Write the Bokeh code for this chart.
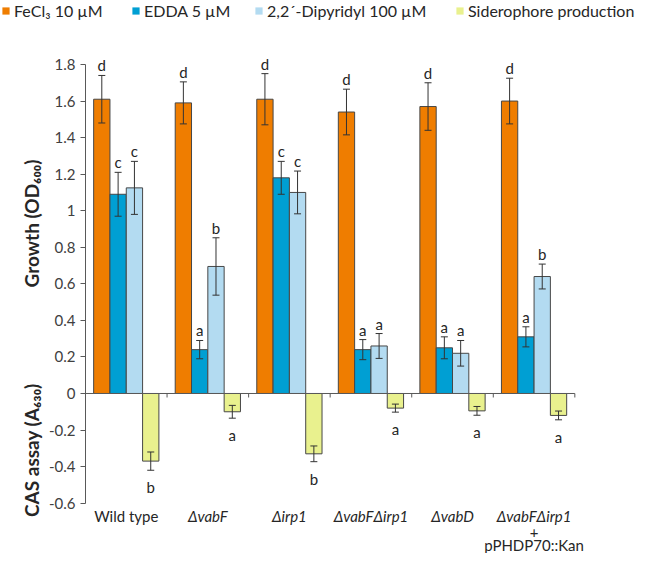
import numpy as np
from bokeh.plotting import figure
from bokeh.layouts import column, row
from bokeh.models import (ColumnDataSource, Range1d, LinearAxis, FixedTicker,
                          CustomJSTickFormatter, Whisker, TeeHead, Legend,
                          LegendItem)
from bokeh.core.properties import value
from bokeh.embed import file_html
from bokeh.resources import INLINE

# ---------------- data ----------------
strains_line1 = ["Wild type", "ΔvabF", "Δirp1", "ΔvabFΔirp1", "ΔvabD", "ΔvabFΔirp1"]
strains_style = ["normal", "italic", "italic", "italic", "italic", "italic"]
strains_line2 = ["", "", "", "", "", "+"]
strains_line3 = ["", "", "", "", "", "pPHDP70::Kan"]

series_names = ["FeCl₃ 10 µM", "EDDA 5 µM", "2,2´-Dipyridyl 100 µM", "Siderophore production"]

fecl3 = [1.61, 1.59, 1.61, 1.54, 1.57, 1.60]
fecl3_err = [0.13, 0.115, 0.14, 0.125, 0.13, 0.125]
fecl3_letters = ["d", "d", "d", "d", "d", "d"]

edda = [1.09, 0.24, 1.18, 0.24, 0.25, 0.31]
edda_err = [0.12, 0.05, 0.09, 0.055, 0.06, 0.055]
edda_letters = ["c", "a", "c", "a", "a", "a"]

dipyridyl = [1.125, 0.695, 1.10, 0.26, 0.22, 0.64]
dipyridyl_err = [0.145, 0.157, 0.117, 0.068, 0.07, 0.068]
dipyridyl_letters = ["c", "b", "c", "a", "a", "b"]

siderophore = [-0.37, -0.10, -0.33, -0.08, -0.095, -0.12]
siderophore_err = [0.05, 0.035, 0.043, 0.022, 0.024, 0.024]
siderophore_letters = ["b", "a", "b", "a", "a", "a"]

y_ticks = [-0.6, -0.4, -0.2, 0.0, 0.2, 0.4, 0.6, 0.8, 1.0, 1.2, 1.4, 1.6, 1.8]
growth_title = "Growth (OD₆₀₀)"
cas_title = "CAS assay (A₆₃₀)"

colors = ["#EF7D00", "#009FD3", "#B3DBF1", "#E9F18E"]
FONT = "Lato"
TXT = "#262626"

# ---------------- geometry ----------------
W, H = 636, 553
LEG_H = 26
TITLE_W = 45
MAIN_H = H - LEG_H
Y_TOP, Y_BOT, X_MAX = 2.0079, -0.8754, 6.756
px_per_unit = MAIN_H / (Y_TOP - Y_BOT)
y_range = Range1d(Y_BOT, Y_TOP)

# ---------------- main plot ----------------
p = figure(width=W - TITLE_W, height=MAIN_H, output_backend="svg",
           toolbar_location=None, x_range=Range1d(0, X_MAX), y_range=y_range,
           x_axis_type=None, y_axis_type=None,
           min_border_left=37, min_border_right=0, min_border_top=0,
           min_border_bottom=0)
p.outline_line_color = None

yaxis = LinearAxis(bounds=(-0.6, 1.8), ticker=FixedTicker(ticks=y_ticks),
                   formatter=CustomJSTickFormatter(code="return Number(tick.toFixed(1)).toString();"),
                   axis_line_color="#595959", major_tick_line_color="#595959",
                   major_tick_in=0, major_tick_out=5, minor_tick_line_color=None,
                   major_label_text_font=FONT, major_label_text_font_size="15px",
                   major_label_text_color="#404040", major_label_standoff=5)
p.add_layout(yaxis, "left")

n = len(strains_line1)
base = np.arange(n)
all_vals = [fecl3, edda, dipyridyl, siderophore]
all_errs = [fecl3_err, edda_err, dipyridyl_err, siderophore_err]
all_letters = [fecl3_letters, edda_letters, dipyridyl_letters, siderophore_letters]

bar_w = 0.2
for i, (vals, errs, lets) in enumerate(zip(all_vals, all_errs, all_letters)):
    vals = np.array(vals)
    errs = np.array(errs)
    src = ColumnDataSource(dict(x=base + 0.2 + bar_w * i, top=vals,
                                upper=vals + errs, lower=vals - errs,
                                letter=lets))
    p.vbar(x="x", top="top", bottom=0, width=bar_w, source=src,
           fill_color=colors[i], line_color="#474747", line_width=1)
    p.add_layout(Whisker(source=src, base="x", upper="upper", lower="lower",
                         dimension="height", line_color="#333333", line_width=1,
                         level="annotation",
                         upper_head=TeeHead(size=7, line_color="#333333", line_width=1),
                         lower_head=TeeHead(size=7, line_color="#333333", line_width=1)))
    if vals.mean() >= 0:
        p.text(x="x", y="upper", text="letter", source=src, text_align="center",
               text_baseline="alphabetic", y_offset=-10, text_font=value(FONT),
               text_font_size="15px", text_color=TXT)
    else:
        p.text(x="x", y="lower", text="letter", source=src, text_align="center",
               text_baseline="alphabetic", y_offset=17, text_font=value(FONT),
               text_font_size="15px", text_color=TXT)

# zero line (category axis) with boundary ticks
p.segment(x0=[0], y0=[0], x1=[n], y1=[0], line_color="#595959", line_width=1)
bounds_x = np.arange(1, n + 1)
p.segment(x0=bounds_x, y0=np.zeros(n), x1=bounds_x, y1=np.full(n, -4 / px_per_unit),
          line_color="#595959", line_width=1)

# category labels
lab_src = ColumnDataSource(dict(x=base + 0.5, y=np.full(n, -0.6), l1=strains_line1,
                                st=strains_style, l2=strains_line2, l3=strains_line3))
p.text(x="x", y="y", text="l1", source=lab_src, text_font_style="st",
       text_align="center", text_baseline="middle", y_offset=13,
       text_font=value(FONT), text_font_size="15px", text_color=TXT)
p.text(x="x", y="y", text="l2", source=lab_src, text_align="center",
       text_baseline="middle", y_offset=29, text_font=value(FONT),
       text_font_size="15px", text_color=TXT)
p.text(x="x", y="y", text="l3", source=lab_src, text_align="center",
       text_baseline="middle", y_offset=42, text_font=value(FONT),
       text_font_size="15px", text_color=TXT)

# ---------------- y titles ----------------
pt = figure(width=TITLE_W, height=MAIN_H, output_backend="svg",
            toolbar_location=None, x_range=Range1d(0, TITLE_W), y_range=y_range,
            x_axis_type=None, y_axis_type=None, min_border=0)
pt.outline_line_color = None
pt.text(x=[31, 31], y=[0.93, -0.31], text=[growth_title, cas_title],
        angle=np.pi / 2, text_align="center", text_baseline="middle",
        text_font=value(FONT), text_font_style="bold", text_font_size="19px",
        text_color=TXT)

# ---------------- legend strip ----------------
pl = figure(width=W, height=LEG_H, output_backend="svg", toolbar_location=None,
            x_range=Range1d(0, W), y_range=Range1d(0, LEG_H),
            x_axis_type=None, y_axis_type=None, min_border=0)
pl.outline_line_color = None
legend_x = [1, 131, 254, 455]
for name, c, lx in zip(series_names, colors, legend_x):
    # zero-size key glyph carrying the series colour
    r = pl.vbar(x=[0], top=[0], bottom=[0], width=0, fill_color=c, line_color=None)
    pl.add_layout(Legend(items=[LegendItem(label=name, renderers=[r])],
                         location=(lx, 6), glyph_width=9, glyph_height=9,
                         label_standoff=4, padding=0, margin=0,
                         border_line_color=None, background_fill_alpha=0,
                         label_text_font=FONT, label_text_font_size="16px",
                         label_text_color=TXT))

layout = column(pl, row(pt, p, spacing=0), spacing=0)
open("out.html", "w").write(file_html(layout, INLINE))
